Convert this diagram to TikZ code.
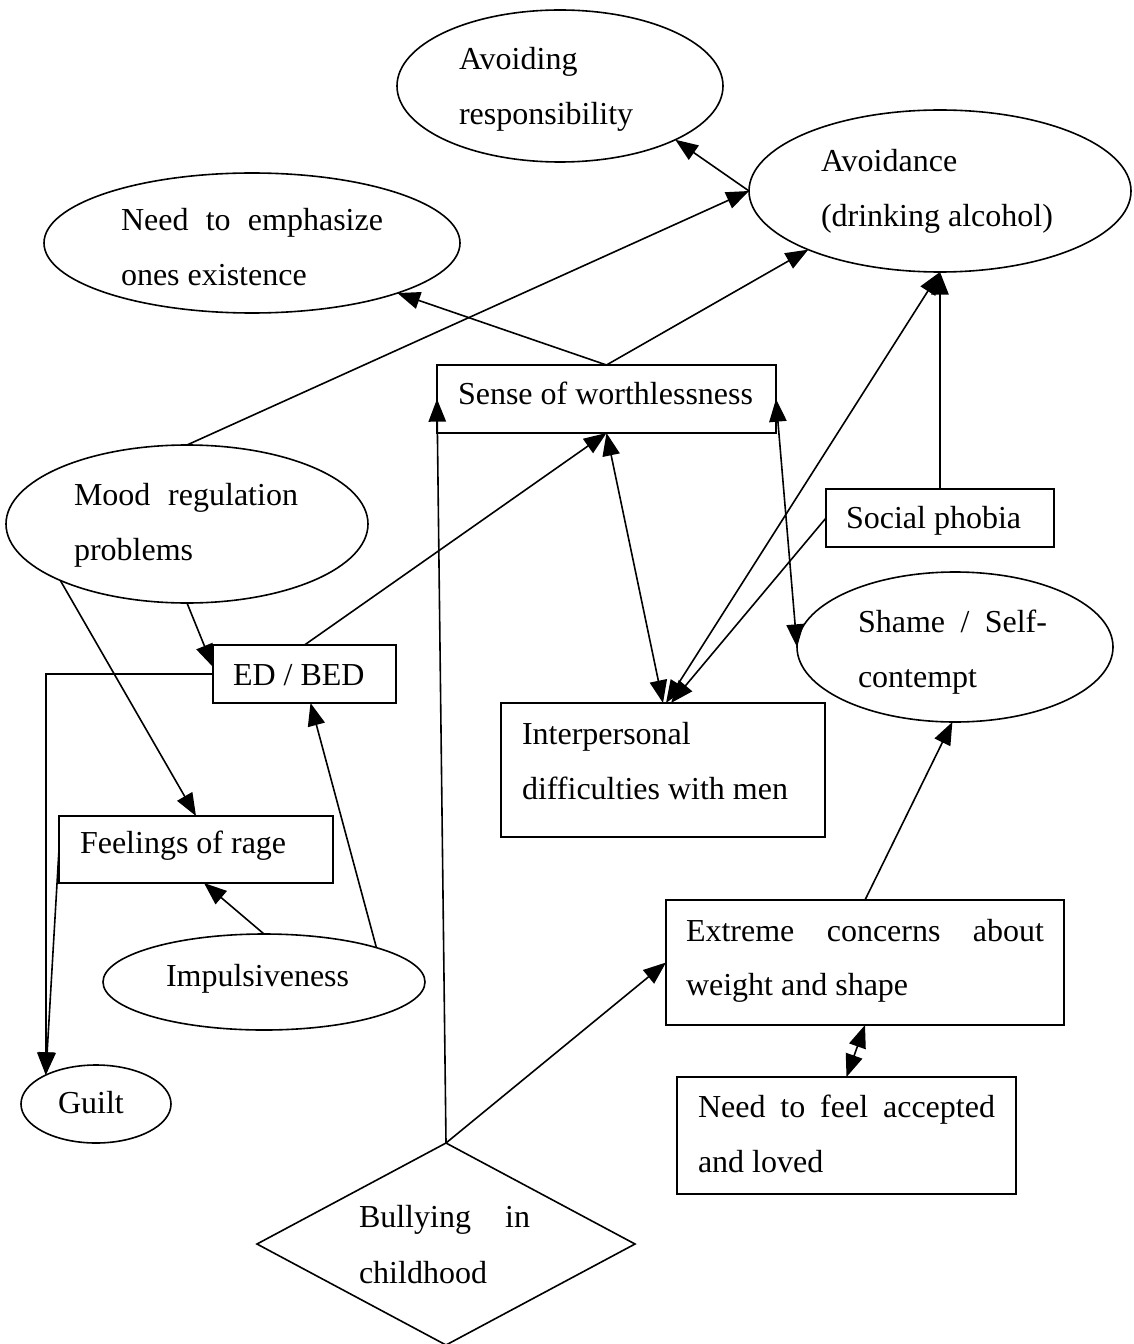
\documentclass[tikz,border=0pt]{standalone}
\usepackage{fontspec}
\setmainfont{Liberation Serif}
\usetikzlibrary{shapes.geometric,arrows.meta}
\begin{document}
\begin{tikzpicture}[x=0.75pt,y=-0.75pt,
  every node/.style={inner sep=0pt,outer sep=0pt},
  oval/.style={draw,ellipse,line width=1.2pt},
  box/.style={draw,rectangle,line width=1.2pt},
  rhomb/.style={draw,diamond,line width=1.2pt},
  lbl/.style={anchor=base west,font=\fontsize{24}{30}\selectfont},
  tip/.tip={Triangle[length=17pt,width=13pt]},
  link/.style={line width=1.2pt,-tip},
  dlink/.style={line width=1.2pt,tip-tip}]
\useasboundingbox (0,0) rectangle (1133,1344);

% ---- shapes ----
\node[oval,minimum width=244.5pt,minimum height=114pt] (resp) at (560,86) {};
\node[oval,minimum width=286.5pt,minimum height=121.5pt] (avoid) at (940,191) {};
\node[oval,minimum width=312pt,minimum height=105pt] (emph) at (252,243) {};
\node[box,minimum width=254.25pt,minimum height=51pt] (sense) at (606.5,399) {};
\node[oval,minimum width=271.5pt,minimum height=118.5pt] (mood) at (187,524) {};
\node[box,minimum width=171pt,minimum height=43.5pt] (social) at (940,518) {};
\node[oval,minimum width=237pt,minimum height=112.5pt] (shame) at (955,647) {};
\node[box,minimum width=137.25pt,minimum height=43.5pt] (ed) at (304.5,674) {};
\node[box,minimum width=243pt,minimum height=100.5pt] (inter) at (663,770) {};
\node[box,minimum width=205.5pt,minimum height=50.25pt] (rage) at (196,849.5) {};
\node[oval,minimum width=241.5pt,minimum height=72pt] (imp) at (264,982) {};
\node[oval,minimum width=112.5pt,minimum height=58.5pt] (guilt) at (96,1104) {};
\node[box,minimum width=298.5pt,minimum height=93.75pt] (extreme) at (865,962.5) {};
\node[box,minimum width=254.25pt,minimum height=87.75pt] (needfeel) at (846.5,1135.5) {};
\node[rhomb,minimum width=283.5pt,minimum height=151.5pt] (bully) at (446,1244) {};

% ---- texts ----
\node[lbl] (t-resp1) at (459,70) {Avoiding};
\node[lbl] (t-resp2) at (459,125) {responsibility};
\node[lbl] (t-avoid1) at (821,172) {Avoidance};
\node[lbl] (t-avoid2) at (821,227) {(drinking alcohol)};
\node[lbl] (t-emph1) at (121,231) {\makebox[196.5pt][s]{Need to emphasize}};
\node[lbl] (t-emph2) at (121,286) {ones existence};
\node[lbl] (t-sense) at (458,404) {Sense of worthlessness};
\node[lbl] (t-mood1) at (74,505) {\makebox[168pt][s]{Mood regulation}};
\node[lbl] (t-mood2) at (74,560) {problems};
\node[lbl] (t-social) at (846,528) {Social phobia};
\node[lbl] (t-shame1) at (858,632) {\makebox[141.75pt][s]{Shame / Self-}};
\node[lbl] (t-shame2) at (858,687) {contempt};
\node[lbl] (t-ed) at (233,685) {ED / BED};
\node[lbl] (t-inter1) at (522,744) {Interpersonal};
\node[lbl] (t-inter2) at (522,799) {difficulties with men};
\node[lbl] (t-rage) at (80,853) {Feelings of rage};
\node[lbl] (t-imp) at (166,986) {Impulsiveness};
\node[lbl] (t-guilt) at (58,1113) {Guilt};
\node[lbl] (t-extreme1) at (686,941) {\makebox[268.5pt][s]{Extreme concerns about}};
\node[lbl] (t-extreme2) at (686,995) {weight and shape};
\node[lbl] (t-need1) at (698,1117) {\makebox[222.75pt][s]{Need to feel accepted}};
\node[lbl] (t-need2) at (698,1172) {and loved};
\node[lbl] (t-bully1) at (359,1227) {\makebox[128.25pt][s]{Bullying in}};
\node[lbl] (t-bully2) at (359,1283) {childhood};

% ---- connectors ----
\draw[link] (avoid.west) -- (resp.-25);
\draw[link] (mood.north) -- (avoid.west);
\draw[link] (sense.north) -- (avoid.204);
\draw[link] (sense.north) -- (emph.-19);
\draw[link] (ed.north) -- (sense.south);
\draw[dlink] (sense.south) -- (inter.north);
\draw[dlink] (sense.east) -- (shame.west);
\draw[dlink] ([shift={(3,0)}]inter.north) -- (avoid.south);
\draw[link] (social.west) -- ([shift={(8,0)}]inter.north);
\draw[link] (social.north) -- (avoid.south);
\draw[link] (mood.south) -- ([shift={(0,22)}]ed.north west);
\draw[link] (mood.204) -- (rage.north);
\draw[link] (ed.west) -| (guilt.150);
\draw[link] (rage.west) -- (guilt.150);
\draw[link] (imp.north) -- ([shift={(8,0)}]rage.south);
\draw[link] (imp.17) -- ([shift={(6,0)}]ed.south);
\draw[link] (bully.north) -- (sense.west);
\draw[link] (bully.north) -- (extreme.west);
\draw[link] (extreme.north) -- (shame.268);
\draw[dlink] (extreme.south) -- (needfeel.north);
\end{tikzpicture}
\end{document}
